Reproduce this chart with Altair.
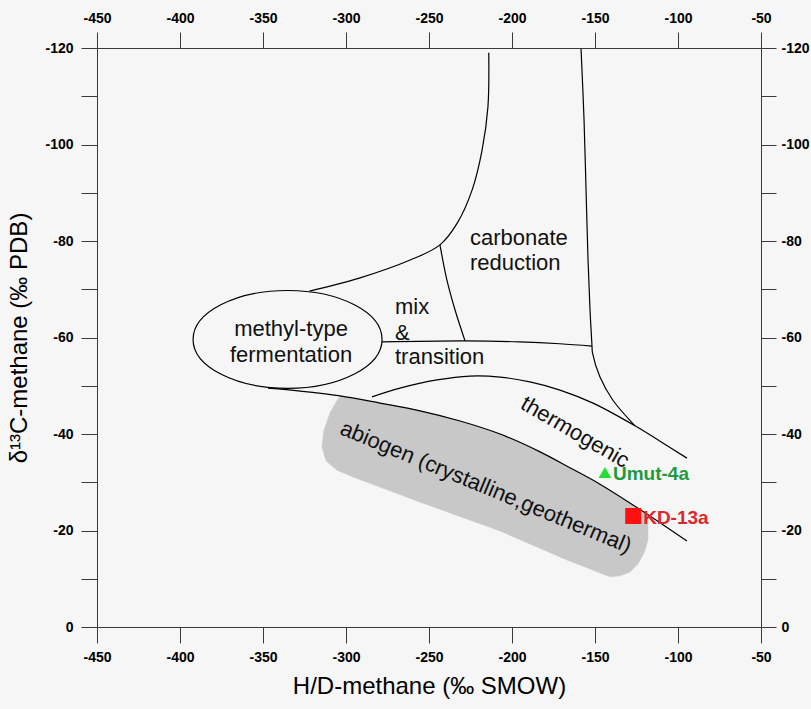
import altair as alt
import pandas as pd

# ---------------- data ----------------
x_ticks = [-450, -400, -350, -300, -250, -200, -150, -100, -50]
y_ticks = [-120, -110, -100, -90, -80, -70, -60, -50, -40, -30, -20, -10, 0]

# boundary curves (H/D, d13C)
carb_left_x = [-322, -292, -261, -243.4, -233, -224, -218, -214.5, -214]
carb_left_y = [-69.6, -72.3, -76.1, -79.2, -83.7, -90.6, -98.9, -107.8, -119]
mix_div_x = [-243.4, -239.2, -234.3, -228.3]
mix_div_y = [-79.2, -71.9, -65.7, -59.3]
mix_base_x = [-278.3, -228.3, -195.2, -171.1, -151.8]
mix_base_y = [-59.1, -59.3, -59.1, -58.7, -58.2]
carb_right_x = [-158.4, -156.6, -155.4, -154.2, -153, -151.8, -151.5, -147, -139.2, -125.9]
carb_right_y = [-119.8, -105.1, -90.6, -76.1, -65.7, -58.2, -56.8, -51.8, -47, -41.7]
thermo_top_x = [-284.3, -267.5, -245.2, -225.3, -207.2, -189.2, -171.1, -151.2, -125.9, -110.8, -94.6]
thermo_top_y = [-47.7, -49.5, -51.2, -52, -51.8, -50.8, -49.1, -46.4, -41.7, -38.5, -35]
thermo_low_x = [-347, -327.7, -303.6, -279.5, -255.4, -231.3, -207.2, -183.1, -165.1, -147, -127.1, -110.8, -94.6]
thermo_low_y = [-49.5, -48.9, -47.9, -46.4, -44.8, -42.7, -40, -36.3, -33, -29.6, -25.3, -21.6, -17.8]

# abiogen shaded field
abiogen_x = [-303.6, -279.5, -255.4, -231.3, -207.2, -183.1, -165.1, -147, -127.1, -118.1,
             -118.1, -120.5, -124.1, -128.9, -134.9, -141, -166.9, -207.2, -257.2, -295.8,
             -305.4, -312, -314.5, -313.3, -309.6, -306]
abiogen_y = [-47.8, -46.4, -44.8, -42.7, -40, -36.3, -33, -29.6, -25.1, -23,
             -18, -15.3, -13.1, -11.4, -10.6, -10.4, -13.9, -19.9, -26.1, -31.1,
             -32.5, -34.4, -37.3, -40.8, -44.4, -46.6]

# methyl-type fermentation ellipse centre
ellipse_x = [-335.2]
ellipse_y = [-59.6]

# field labels
left_labels = ["carbonate", "reduction", "mix", "&", "transition"]
left_labels_x = [-225.3, -225.3, -270.5, -270.5, -270.5]
left_labels_y = [-80.6, -75.4, -66.3, -60.9, -56.0]
center_labels = ["methyl-type", "fermentation"]
center_labels_x = [-333.1, -333.1]
center_labels_y = [-61.8, -56.4]
thermo_label = ["thermogenic"]
thermo_label_x = [-162]
thermo_label_y = [-40.4]
abiogen_label = ["abiogen (crystalline,geothermal)"]
abiogen_label_x = [-215.7]
abiogen_label_y = [-29]

# samples
sample_names = ["Umut-4a", "KD-13a"]
sample_x = [-144, -127]
sample_y = [-32, -23]

# ---------------- tables ----------------
curves = [
    ("carb_left", carb_left_x, carb_left_y),
    ("mix_div", mix_div_x, mix_div_y),
    ("mix_base", mix_base_x, mix_base_y),
    ("carb_right", carb_right_x, carb_right_y),
    ("thermo_top", thermo_top_x, thermo_top_y),
    ("thermo_low", thermo_low_x, thermo_low_y),
]
rows = []
for name, xs, ys in curves:
    for i, (a, b) in enumerate(zip(xs, ys)):
        rows.append({"seg": name, "i": i, "x": a, "y": b})
curve_df = pd.DataFrame(rows)
poly_df = pd.DataFrame({"i": range(len(abiogen_x)), "x": abiogen_x, "y": abiogen_y})

XS = alt.Scale(domain=[-450, -50], nice=False, zero=False)
YS = alt.Scale(domain=[-120, 0], reverse=True, nice=False, zero=False)

AX_COLOR = "#3a3a3a"
LBL_FONT = "Liberation Sans Narrow, Arial Narrow, Liberation Sans"
common = dict(domainColor=AX_COLOR, tickColor=AX_COLOR, tickWidth=1, domainWidth=1,
              labelFont=LBL_FONT, labelFontWeight="bold", labelFontSize=14,
              labelColor="black", grid=False, labelFlush=False, labelOverlap=False,
              labelBound=False)

x_bottom = alt.Axis(orient="bottom", values=x_ticks, labelExpr="'' + datum.value",
                    tickSize=16, labelPadding=7, title="H/D-methane (‰ SMOW)",
                    titleFont="Liberation Sans", titleFontSize=24, titleFontWeight="normal",
                    titleColor="black", titlePadding=10, **common)
x_top = alt.Axis(orient="top", values=x_ticks, labelExpr="'' + datum.value",
                 tickSize=16, labelPadding=7, title=None, **common)
y_expr = "datum.value % 20 == 0 ? '' + datum.value : ''"
y_left = alt.Axis(orient="left", values=y_ticks, labelExpr=y_expr, tickSize=16,
                  labelPadding=8, title="δ¹³C-methane (‰ PDB)", titleFont="Liberation Sans",
                  titleFontSize=24, titleFontWeight="normal", titleColor="black",
                  titlePadding=13, **common)
y_right = alt.Axis(orient="right", values=y_ticks, labelExpr=y_expr, tickSize=15,
                   labelPadding=5, title=None, **common)

poly = alt.Chart(poly_df).mark_line(
    fill="#c8c8c8", stroke="#c8c8c8", strokeWidth=0.5, interpolate="linear-closed"
).encode(
    x=alt.X("x:Q", scale=XS, axis=x_bottom),
    y=alt.Y("y:Q", scale=YS, axis=y_left),
    order=alt.Order("i:Q"),
)

lines = alt.Chart(curve_df).mark_line(
    color="black", strokeWidth=1.2, interpolate="catmull-rom"
).encode(
    x=alt.X("x:Q", scale=XS, axis=None),
    y=alt.Y("y:Q", scale=YS, axis=None),
    detail="seg:N",
    order=alt.Order("i:Q"),
)

ELLIPSE = ("M -1 0 C -1 -0.286 -0.5523 -0.518 0 -0.518 C 0.5523 -0.518 1 -0.286 1 0 "
           "C 1 0.286 0.5523 0.518 0 0.518 C -0.5523 0.518 -1 0.286 -1 0 Z")
ellipse = alt.Chart(pd.DataFrame({"x": ellipse_x, "y": ellipse_y})).mark_point(
    shape=ELLIPSE, size=189 * 189, filled=False, stroke="black", strokeWidth=1.2, opacity=1
).encode(
    x=alt.X("x:Q", scale=XS, axis=x_top),
    y=alt.Y("y:Q", scale=YS, axis=y_right),
)

TXT_FONT = "Liberation Sans"

def text_layer(labels, xs, ys, align, angle=0):
    df = pd.DataFrame({"t": labels, "x": xs, "y": ys})
    return alt.Chart(df).mark_text(
        align=align, baseline="middle", font=TXT_FONT, fontSize=22, color="#111111",
        angle=angle
    ).encode(
        x=alt.X("x:Q", scale=XS, axis=None),
        y=alt.Y("y:Q", scale=YS, axis=None),
        text="t:N",
    )

t_left = text_layer(left_labels, left_labels_x, left_labels_y, "left")
t_center = text_layer(center_labels, center_labels_x, center_labels_y, "center")
t_thermo = text_layer(thermo_label, thermo_label_x, thermo_label_y, "center", 30)
t_abio = text_layer(abiogen_label, abiogen_label_x, abiogen_label_y, "center", 22.5)

s_df = pd.DataFrame({"name": sample_names, "x": sample_x, "y": sample_y})
umut = s_df[s_df["name"] == "Umut-4a"]
kd = s_df[s_df["name"] == "KD-13a"]

tri = alt.Chart(umut).mark_point(shape="triangle-up", filled=True, color="#22dd33",
                                 size=160, opacity=1).encode(
    x=alt.X("x:Q", scale=XS, axis=None), y=alt.Y("y:Q", scale=YS, axis=None))
tri_t = alt.Chart(umut).mark_text(align="left", baseline="middle", dx=8, dy=1,
                                  font=TXT_FONT, fontWeight="bold", fontSize=19,
                                  color="#1e9a40").encode(
    x=alt.X("x:Q", scale=XS, axis=None), y=alt.Y("y:Q", scale=YS, axis=None), text="name:N")
sq = alt.Chart(kd).mark_point(shape="square", filled=True, color="#ff1010",
                              size=256, opacity=1).encode(
    x=alt.X("x:Q", scale=XS, axis=None), y=alt.Y("y:Q", scale=YS, axis=None))
sq_t = alt.Chart(kd).mark_text(align="left", baseline="middle", dx=10, dy=2,
                               font=TXT_FONT, fontWeight="bold", fontSize=19,
                               color="#e0262a").encode(
    x=alt.X("x:Q", scale=XS, axis=None), y=alt.Y("y:Q", scale=YS, axis=None), text="name:N")

chart = alt.layer(
    poly, lines, ellipse, t_left, t_center, t_thermo, t_abio, tri, tri_t, sq, sq_t
).resolve_axis(x="independent", y="independent").properties(
    width=664, height=579,
    autosize=alt.AutoSizeParams(type="none"),
    padding={"left": 97, "top": 48, "right": 50, "bottom": 82},
    background="#f6f6f6",
).configure_view(stroke=None)

chart.save("out.html", embed_options={"renderer": "svg", "actions": False})
